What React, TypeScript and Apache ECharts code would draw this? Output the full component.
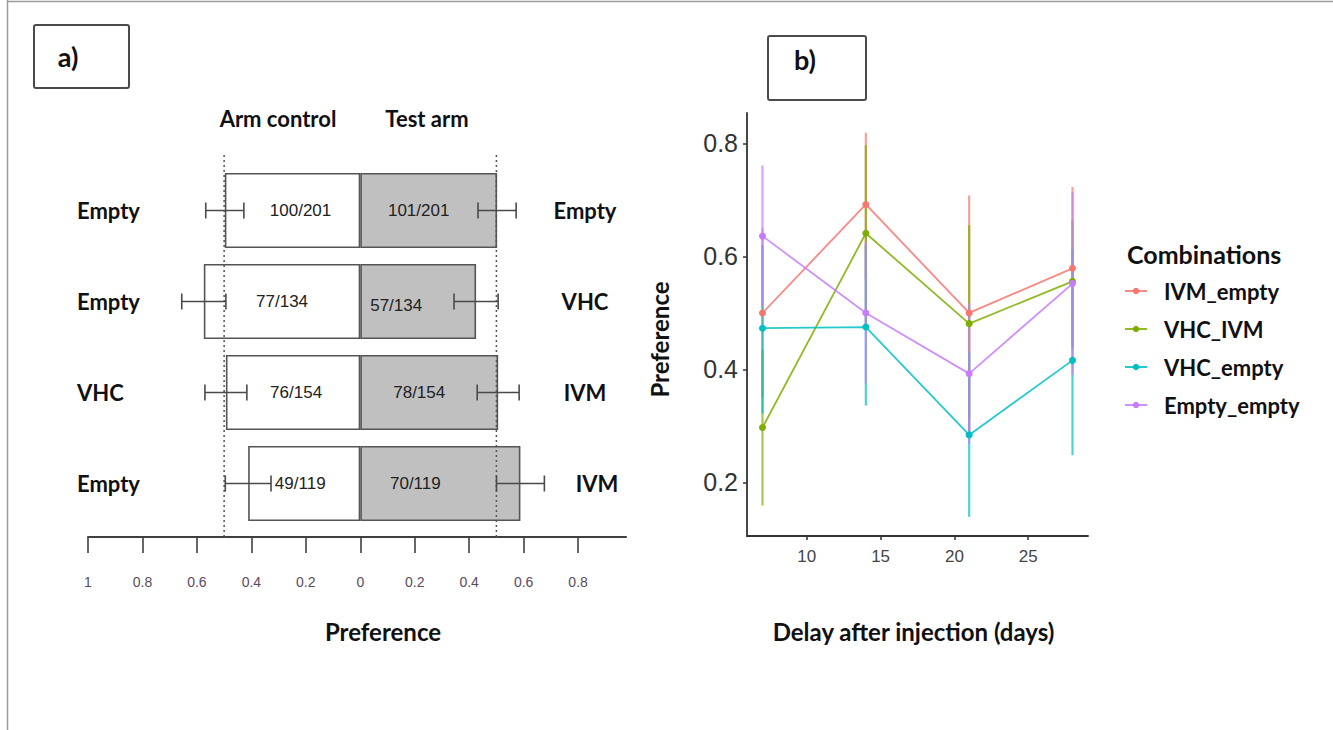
import React, { useEffect, useRef } from 'react';
import * as echarts from 'echarts';

// ---------- Panel a data ----------
const rowControlLabels = ['Empty', 'Empty', 'VHC', 'Empty'];
const rowTestLabels = ['Empty', 'VHC', 'IVM', 'IVM'];
const controlCounts = [100, 77, 76, 49];
const testCounts = [101, 57, 78, 70];
const totals = [201, 134, 154, 119];
const controlErr = [0.07, 0.081, 0.077, 0.084];
const testErr = [0.07, 0.081, 0.077, 0.088];
const prefTicksA = [-1, -0.8, -0.6, -0.4, -0.2, 0, 0.2, 0.4, 0.6, 0.8];
const thresholdLines = [-0.5, 0.5];

// ---------- Panel b data ----------
const days = [7, 14, 21, 28];
const dayTicks = [10, 15, 20, 25];
const prefTicksB = [0.2, 0.4, 0.6, 0.8];
const combinations = ['IVM_empty', 'VHC_IVM', 'VHC_empty', 'Empty_empty'];
const comboColors = ['#F8766D', '#7CAE00', '#00BFC4', '#C77CFF'];
const ivmEmpty = [0.5, 0.692, 0.5, 0.579];
const ivmEmptyLow = [0.35, 0.56, 0.29, 0.435];
const ivmEmptyHigh = [0.65, 0.819, 0.708, 0.723];
const vhcIvm = [0.297, 0.641, 0.481, 0.556];
const vhcIvmLow = [0.159, 0.48, 0.313, 0.443];
const vhcIvmHigh = [0.435, 0.797, 0.655, 0.664];
const vhcEmpty = [0.473, 0.475, 0.284, 0.416];
const vhcEmptyLow = [0.322, 0.336, 0.139, 0.248];
const vhcEmptyHigh = [0.62, 0.62, 0.43, 0.612];
const emptyEmpty = [0.636, 0.5, 0.3925, 0.552];
const emptyEmptyLow = [0.511, 0.375, 0.268, 0.39];
const emptyEmptyHigh = [0.761, 0.625, 0.517, 0.714];

const comboValues = [ivmEmpty, vhcIvm, vhcEmpty, emptyEmpty];
const comboLow = [ivmEmptyLow, vhcIvmLow, vhcEmptyLow, emptyEmptyLow];
const comboHigh = [ivmEmptyHigh, vhcIvmHigh, vhcEmptyHigh, emptyEmptyHigh];

const BOLD = 'Lato, "Open Sans", sans-serif';
const NARROW = '"Liberation Sans", Arial, sans-serif';

export default function App() {
  const ref = useRef<HTMLDivElement>(null);

  useEffect(() => {
    if (!ref.current) return;
    const chart = echarts.init(ref.current, undefined, { renderer: 'svg' });

    const controlFrac = controlCounts.map((c, i) => c / totals[i]);
    const testFrac = testCounts.map((c, i) => c / totals[i]);

    // label nudges (styling only) to mimic the hand-placed labels of the original
    const controlLabelOffset = [[8, 0], [0, 0], [3, 0], [-4, 0]];
    const testLabelOffset = [[-10, 0], [-22, 4], [-10, 0], [-25, 0]];
    const leftRowUp = [0, 0, 5, 9];
    const rightRowShift = [[0, 0], [0, 0], [0, 0], [12, 6]];

    const rowLabelFont = { fontFamily: BOLD, fontWeight: 'bold', fontSize: 22, color: '#111' };

    const barLabel = {
      show: true,
      position: 'inside',
      fontFamily: NARROW,
      fontSize: 17,
      color: '#222',
    };

    const errA = (data: number[][]) => ({
      type: 'custom',
      xAxisIndex: 0,
      yAxisIndex: 0,
      z: 5,
      silent: true,
      data,
      renderItem: (_p: any, api: any) => {
        const c = api.value(0);
        const r = api.value(1);
        const e = api.value(2);
        const p1 = api.coord([c - e, r]);
        const p2 = api.coord([c + e, r]);
        const h = 8;
        const st = { stroke: '#4a4a4a', lineWidth: 1.6 };
        return {
          type: 'group',
          children: [
            { type: 'line', shape: { x1: p1[0], y1: p1[1], x2: p2[0], y2: p2[1] }, style: st },
            { type: 'line', shape: { x1: p1[0], y1: p1[1] - h, x2: p1[0], y2: p1[1] + h }, style: st },
            { type: 'line', shape: { x1: p2[0], y1: p2[1] - h, x2: p2[0], y2: p2[1] + h }, style: st },
          ],
        };
      },
    });

    const errB = combinations.map((name, k) => ({
      type: 'custom',
      name: name + '_err',
      xAxisIndex: 1,
      yAxisIndex: 2,
      z: 2,
      silent: true,
      data: days.map((d, i) => [d, comboLow[k][i], comboHigh[k][i]]),
      renderItem: (_p: any, api: any) => {
        const x = api.value(0);
        const p1 = api.coord([x, api.value(1)]);
        const p2 = api.coord([x, api.value(2)]);
        return {
          type: 'line',
          shape: { x1: p1[0], y1: p1[1], x2: p2[0], y2: p2[1] },
          style: { stroke: comboColors[k], lineWidth: 2.2, opacity: 0.7 },
        };
      },
    }));

    const linesB = combinations.map((name, k) => ({
      type: 'line',
      name,
      xAxisIndex: 1,
      yAxisIndex: 2,
      z: 3,
      symbol: 'circle',
      symbolSize: 7,
      itemStyle: { color: comboColors[k] },
      lineStyle: { color: comboColors[k], width: 1.8, opacity: 0.85 },
      data: days.map((d, i) => [d, comboValues[k][i]]),
    }));

    const leftAxisData = rowControlLabels.map((v, i) => ({
      value: v,
      textStyle: { ...rowLabelFont, align: 'left', padding: [0, 0, 2 * leftRowUp[i], 0] },
    }));
    const rightAxisData = rowTestLabels.map((v, i) => ({
      value: v,
      textStyle: { ...rowLabelFont, align: 'center', padding: [2 * rightRowShift[i][1], 0, 0, 2 * rightRowShift[i][0]] },
    }));

    const option: any = {
      animation: false,
      backgroundColor: '#ffffff',
      grid: [
        { left: 88, top: 165, width: 538, height: 364 },
        { left: 747, top: 113, width: 341, height: 423 },
      ],
      xAxis: [
        {
          type: 'value',
          gridIndex: 0,
          min: -1,
          max: 0.976,
          offset: 8,
          splitLine: { show: false },
          axisLine: { show: true, lineStyle: { color: '#404040', width: 2 } },
          axisTick: { show: true, customValues: prefTicksA, length: 16, lineStyle: { color: '#404040', width: 1.6 } },
          axisLabel: {
            customValues: prefTicksA,
            margin: 38,
            fontFamily: NARROW,
            fontSize: 14,
            color: '#5b4a60',
            formatter: (v: number) => String(Math.round(Math.abs(v) * 10) / 10),
          },
          name: 'Preference',
          nameLocation: 'middle',
          nameGap: 82,
          nameTextStyle: { fontFamily: BOLD, fontWeight: 'bold', fontSize: 24, color: '#111', padding: [0, 0, 0, 52] },
        },
        {
          type: 'value',
          gridIndex: 1,
          min: 5.95,
          max: 29.05,
          splitLine: { show: false },
          axisLine: { show: true, lineStyle: { color: '#333', width: 1.8 } },
          axisTick: { show: true, customValues: dayTicks, length: 4, lineStyle: { color: '#333', width: 1.5 } },
          axisLabel: { customValues: dayTicks, margin: 12, fontFamily: 'Liberation Sans, Arial, sans-serif', fontSize: 17, color: '#444' },
          name: 'Delay after injection (days)',
          nameLocation: 'middle',
          nameGap: 83,
          nameTextStyle: { fontFamily: BOLD, fontWeight: 'bold', fontSize: 24, color: '#111', padding: [0, 8, 0, 0] },
        },
      ],
      yAxis: [
        {
          type: 'category',
          gridIndex: 0,
          position: 'left',
          inverse: true,
          data: leftAxisData,
          axisLine: { show: false },
          axisTick: { show: false },
          splitLine: { show: false },
          axisLabel: { align: 'left', margin: 11, ...rowLabelFont },
        },
        {
          type: 'category',
          gridIndex: 0,
          position: 'right',
          inverse: true,
          data: rightAxisData,
          axisLine: { show: false },
          axisTick: { show: false },
          splitLine: { show: false },
          axisLabel: { align: 'center', margin: -41, ...rowLabelFont },
        },
        {
          type: 'value',
          gridIndex: 1,
          min: 0.105,
          max: 0.854,
          splitLine: { show: false },
          axisLine: { show: true, lineStyle: { color: '#333', width: 1.8 } },
          axisTick: { show: true, customValues: prefTicksB, length: 4, lineStyle: { color: '#333', width: 1.5 } },
          axisLabel: { customValues: prefTicksB, margin: 9, fontFamily: 'Liberation Sans, Arial, sans-serif', fontSize: 25, color: '#333' },
          name: 'Preference',
          nameLocation: 'middle',
          nameGap: 76,
          nameTextStyle: { fontFamily: BOLD, fontWeight: 'bold', fontSize: 24, color: '#111', padding: [0, 30, 0, 0] },
        },
      ],
      legend: {
        data: combinations,
        orient: 'vertical',
        left: 1119,
        top: 275,
        itemWidth: 22,
        itemHeight: 8,
        itemGap: 16,
        textStyle: { fontFamily: BOLD, fontWeight: 'bold', fontSize: 22, color: '#111', padding: [0, 0, 0, 12] },
      },
      graphic: [
        { type: 'line', shape: { x1: 7, y1: 1.5, x2: 1333, y2: 1.5 }, style: { stroke: '#9a9a9a', lineWidth: 1.5 } },
        { type: 'line', shape: { x1: 7.5, y1: 0, x2: 7.5, y2: 730 }, style: { stroke: '#9a9a9a', lineWidth: 1.5 } },
        { type: 'rect', shape: { x: 34, y: 25, width: 95, height: 63, r: 2 }, style: { fill: '#fff', stroke: '#4a4a4a', lineWidth: 2 } },
        { type: 'text', x: 68, y: 56, style: { text: 'a)', font: `bold 27px ${BOLD}`, fill: '#111', align: 'center', verticalAlign: 'middle' } },
        { type: 'rect', shape: { x: 768, y: 36, width: 98, height: 64, r: 2 }, style: { fill: '#fff', stroke: '#4a4a4a', lineWidth: 2 } },
        { type: 'text', x: 805, y: 59, style: { text: 'b)', font: `bold 27px ${BOLD}`, fill: '#111', align: 'center', verticalAlign: 'middle' } },
        { type: 'text', x: 278, y: 118, style: { text: 'Arm control', font: `bold 22px ${BOLD}`, fill: '#111', align: 'center', verticalAlign: 'middle' } },
        { type: 'text', x: 427, y: 118, style: { text: 'Test arm', font: `bold 22px ${BOLD}`, fill: '#111', align: 'center', verticalAlign: 'middle' } },
        { type: 'text', x: 1127, y: 254, style: { text: 'Combinations', font: `bold 25px ${BOLD}`, fill: '#111', align: 'left', verticalAlign: 'middle' } },
      ],
      series: [
        {
          type: 'bar',
          name: 'Arm control',
          xAxisIndex: 0,
          yAxisIndex: 0,
          barWidth: 75,
          barGap: '-100%',
          itemStyle: { color: '#ffffff', borderColor: '#555', borderWidth: 1.6 },
          label: { ...barLabel, formatter: (p: any) => `${controlCounts[p.dataIndex]}/${totals[p.dataIndex]}` },
          data: controlFrac.map((v, i) => ({ value: -v, label: { offset: controlLabelOffset[i] } })),
        },
        {
          type: 'bar',
          name: 'Test arm',
          xAxisIndex: 0,
          yAxisIndex: 0,
          barWidth: 75,
          barGap: '-100%',
          itemStyle: { color: '#c0c0c0', borderColor: '#555', borderWidth: 1.6 },
          label: { ...barLabel, formatter: (p: any) => `${testCounts[p.dataIndex]}/${totals[p.dataIndex]}` },
          data: testFrac.map((v, i) => ({ value: v, label: { offset: testLabelOffset[i] } })),
        },
        {
          type: 'custom',
          xAxisIndex: 0,
          yAxisIndex: 0,
          z: 4,
          silent: true,
          data: thresholdLines.map((v) => [v, 0]),
          renderItem: (params: any, api: any) => {
            const x = api.coord([api.value(0), 0])[0];
            const cs = params.coordSys;
            return {
              type: 'line',
              shape: { x1: x, y1: cs.y - 10, x2: x, y2: cs.y + cs.height + 8 },
              style: { stroke: '#555', lineWidth: 1.5, lineDash: [2, 3] },
            };
          },
        },
        errA(controlFrac.map((v, i) => [-v, i, controlErr[i]])),
        errA(testFrac.map((v, i) => [v, i, testErr[i]])),
        ...errB,
        ...linesB,
      ],
    };
    chart.setOption(option);
    return () => chart.dispose();
  }, []);

  return <div ref={ref} style={{ position: 'fixed', left: 0, top: 0, width: 1333, height: 730, background: '#fff' }} />;
}
